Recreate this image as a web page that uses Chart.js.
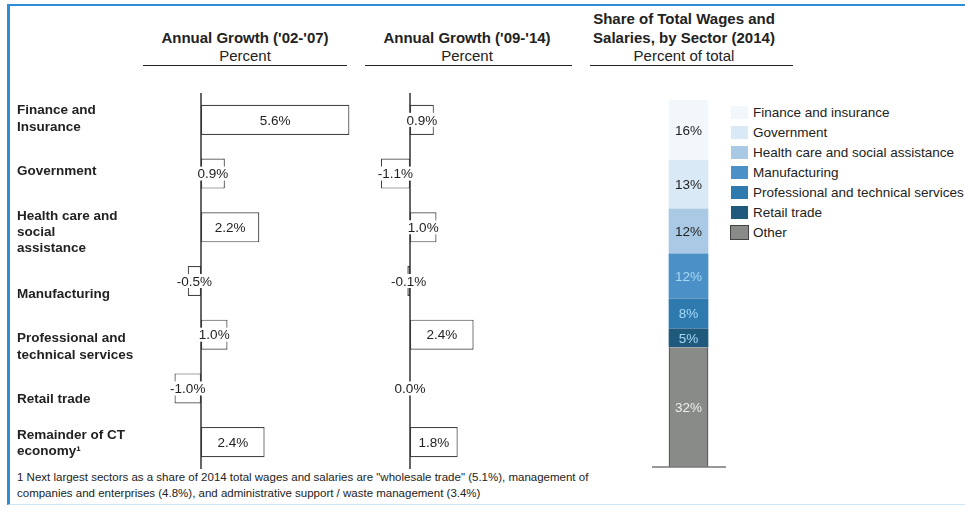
<!DOCTYPE html>
<html lang="en">
  <head>
    <meta charset="UTF-8" />
    <title>Annual growth and share of wages by sector</title>
    <script src="https://cdn.jsdelivr.net/npm/chart.js"></script>
    <style>
      body { margin: 0; width: 965px; height: 508px; background: #fff; overflow: hidden;
             font-family: "Liberation Sans", Arial, sans-serif; color: #222; position: relative; }
      .frame { position: absolute; left: 7px; top: 4px; width: 980px; height: 498px;
               border-left: 3px solid #2a8fd8; border-top: 2px solid #2a8fd8; border-bottom: 1px solid #cfe6f5; }
      .hd { position: absolute; font-size: 15px; line-height: 18px; text-align: center; white-space: nowrap; }
      .hd b { font-weight: bold; }
      .rule { position: absolute; top: 65px; height: 0; border-top: 1px solid #222; }
      .box { position: absolute; }
      .legend { position: absolute; left: 731px; top: 102px; font-size: 13.5px; }
      .legend div { height: 20px; display: flex; align-items: center; white-space: nowrap; }
      .legend span { display: inline-block; width: 17px; height: 13px; margin-right: 5px; }
      .note { position: absolute; left: 17px; top: 469px; font-size: 11.5px; line-height: 16px; }
    </style>
  </head>
  <body>
    <div class="frame"></div>

    <!-- headers -->
    <div class="hd" style="left:145px; width:200px; top:29px;"><b>Annual Growth ('02-'07)</b></div>
    <div class="hd" style="left:145px; width:200px; top:47px;">Percent</div>
    <div class="rule" style="left:143px; width:204px;"></div>

    <div class="hd" style="left:367px; width:200px; top:29px;"><b>Annual Growth ('09-'14)</b></div>
    <div class="hd" style="left:367px; width:200px; top:47px;">Percent</div>
    <div class="rule" style="left:365px; width:207px;"></div>

    <div class="hd" style="left:584px; width:200px; top:10px;"><b>Share of Total Wages and</b></div>
    <div class="hd" style="left:584px; width:200px; top:29px;"><b>Salaries, by Sector (2014)</b></div>
    <div class="hd" style="left:584px; width:200px; top:47px;">Percent of total</div>
    <div class="rule" style="left:590px; width:203px;"></div>

    <div class="box" style="left:17px; top:93px; width:343px; height:376px;"><canvas id="growth1"></canvas></div>
    <div class="box" style="left:357px; top:93px; width:212px; height:376px;"><canvas id="growth2"></canvas></div>
    <div class="box" style="left:648px; top:100px; width:81px; height:370px;"><canvas id="share"></canvas></div>
    <div class="legend" id="legend"></div>

    <div class="note">1 Next largest sectors as a share of 2014 total wages and salaries are "wholesale trade" (5.1%), management of<br>companies and enterprises (4.8%), and administrative support / waste management (3.4%)</div>

    <script>
      // sectors and growth rates
      const sectors = [
        ["Finance and", "Insurance"],
        ["Government"],
        ["Health care and", "social", "assistance"],
        ["Manufacturing"],
        ["Professional and", "technical services"],
        ["Retail trade"],
        ["Remainder of CT", "economy\u00b9"]
      ];
      const growth0207 = [5.6, 0.9, 2.2, -0.5, 1.0, -1.0, 2.4];
      const growth0914 = [0.9, -1.1, 1.0, -0.1, 2.4, 0.0, 1.8];

      // the source sets some sector names a little below their bar (px)
      const labelNudge = [-1, -2, 5, 13, 12, 11, 1];

      // wage share 2014, listed bottom of the stack first
      const shareNames = ["Other", "Retail trade", "Professional and technical services", "Manufacturing",
                          "Health care and social assistance", "Government", "Finance and insurance"];
      const shareValues = [32, 5, 8, 12, 12, 13, 16];
      const shareColors = ["#898b89", "#1f5a7d", "#2e79ae", "#4b90c6", "#a9c9e4", "#d9e9f6", "#f2f7fc"];
      const shareTextColors = ["#eeeeee", "#a6d9f7", "#a6d9f7", "#a6d9f7", "#222", "#222", "#222"];

      const FONT = "'Liberation Sans', Arial, sans-serif";

      // vertical line at zero + value labels on white patches
      const growthDecor = {
        id: "growthDecor",
        afterDatasetsDraw(chart) {
          const ctx = chart.ctx;
          const x0 = chart.scales.x.getPixelForValue(0);
          const area = chart.chartArea;
          ctx.save();
          ctx.strokeStyle = "#333";
          ctx.lineWidth = 1.5;
          ctx.beginPath();
          ctx.moveTo(x0, area.top - 1);
          ctx.lineTo(x0, area.bottom + 1);
          ctx.stroke();

          ctx.font = "13.5px " + FONT;
          ctx.textAlign = "center";
          ctx.textBaseline = "middle";
          const meta = chart.getDatasetMeta(0);
          const vals = chart.data.datasets[0].data;
          meta.data.forEach((bar, i) => {
            const txt = vals[i].toFixed(1) + "%";
            const cx = (bar.x + bar.base) / 2;
            const w = ctx.measureText(txt).width;
            ctx.fillStyle = "#fff";
            ctx.fillRect(cx - w / 2 - 1, bar.y - 7, w + 2, 14);
            ctx.fillStyle = "#222";
            ctx.fillText(txt, cx, bar.y + 1);
          });

          // sector names, left aligned, in the y scale's space
          const y = chart.scales.y;
          if (y.options.display) {
            ctx.font = "bold 13.5px " + FONT;
            ctx.textAlign = "left";
            chart.data.labels.forEach((lines, i) => {
              const cy = y.getPixelForValue(i) + labelNudge[i];
              const lh = 16.2;
              lines.forEach((ln, k) => {
                ctx.fillText(ln, y.left, cy + (k - (lines.length - 1) / 2) * lh);
              });
            });
          }
          ctx.restore();
        }
      };

      function growthChart(id, values, showLabels) {
        return new Chart(document.getElementById(id), {
          type: "bar",
          data: {
            labels: sectors,
            datasets: [{
              data: values,
              backgroundColor: "#fff",
              borderColor: "#444",
              borderWidth: 1.2,
              borderSkipped: false,
              barPercentage: 0.56,
              categoryPercentage: 1
            }]
          },
          options: {
            indexAxis: "y",
            responsive: true,
            maintainAspectRatio: false,
            animation: false,
            layout: { padding: 0 },
            plugins: { legend: { display: false }, tooltip: { enabled: false } },
            scales: {
              x: { display: false, min: -2, max: 6 },
              y: {
                display: showLabels,
                grid: { display: false },
                border: { display: false },
                ticks: { display: false },
                afterFit(scale) {
                  if (!showLabels) return;
                  scale.width = 131;
                  scale.paddingTop = 0;
                  scale.paddingBottom = 0;
                }
              }
            }
          },
          plugins: [growthDecor]
        });
      }

      growthChart("growth1", growth0207, true);
      growthChart("growth2", growth0914, false);

      // stacked share bar
      const shareDecor = {
        id: "shareDecor",
        afterDatasetsDraw(chart) {
          const ctx = chart.ctx;
          const area = chart.chartArea;
          const y0 = chart.scales.y.getPixelForValue(0);
          ctx.save();
          ctx.strokeStyle = "#777";
          ctx.lineWidth = 1.5;
          ctx.beginPath();
          ctx.moveTo(area.left + 4, y0);
          ctx.lineTo(area.right - 3, y0);
          ctx.stroke();

          ctx.font = "13.5px " + FONT;
          ctx.textAlign = "center";
          ctx.textBaseline = "middle";
          chart.data.datasets.forEach((ds, i) => {
            const bar = chart.getDatasetMeta(i).data[0];
            ctx.fillStyle = shareTextColors[i];
            ctx.fillText(ds.data[0] + "%", bar.x, (bar.y + bar.base) / 2 + 1);
          });
          ctx.restore();
        }
      };

      const shareChart = new Chart(document.getElementById("share"), {
        type: "bar",
        data: {
          labels: ["2014"],
          datasets: shareNames.map((name, i) => ({
            label: name,
            data: [shareValues[i]],
            backgroundColor: shareColors[i],
            borderColor: "#3a3a3a",
            borderWidth: i === 0 ? { left: 1.2, right: 1.2, top: 0, bottom: 0 } : 0,
            borderSkipped: false,
            barPercentage: 0.49,
            categoryPercentage: 1
          }))
        },
        options: {
          responsive: true,
          maintainAspectRatio: false,
          animation: false,
          layout: { padding: { bottom: 3 } },
          plugins: { legend: { display: false }, tooltip: { enabled: false } },
          scales: {
            x: { display: false, stacked: true },
            y: { display: false, stacked: true, min: 0, max: 98 }
          }
        },
        plugins: [shareDecor]
      });

      // legend, top of the stack first
      const legend = document.getElementById("legend");
      shareChart.data.datasets.slice().reverse().forEach(ds => {
        const row = document.createElement("div");
        const sw = document.createElement("span");
        sw.style.background = ds.backgroundColor;
        if (ds.label === "Other") sw.style.outline = "1px solid #444";
        row.appendChild(sw);
        row.appendChild(document.createTextNode(ds.label));
        legend.appendChild(row);
      });
    </script>
  </body>
</html>
